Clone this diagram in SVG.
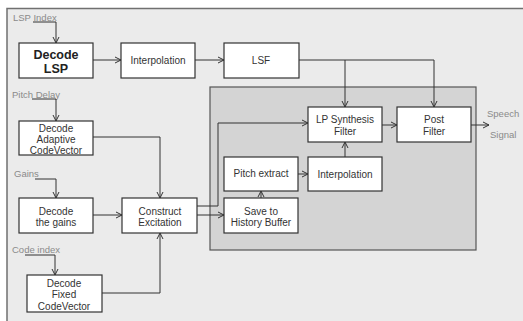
<svg xmlns="http://www.w3.org/2000/svg" width="523" height="321" viewBox="0 0 523 321">
<defs>
<marker id="ah" markerWidth="8" markerHeight="8" refX="7" refY="4" orient="auto" markerUnits="userSpaceOnUse">
<path d="M1,1 L7,4 L1,7" fill="none" stroke="#333" stroke-width="1"/>
</marker>
<style>
.box{fill:#fff;stroke:#333;stroke-width:1.2}
.t{font-family:"Liberation Sans",Arial,sans-serif;font-size:10px;fill:#333;text-anchor:middle}
.tb{font-family:"Liberation Sans",Arial,sans-serif;font-size:12.5px;font-weight:bold;fill:#222;text-anchor:middle}
.lbl{font-family:"Liberation Sans",Arial,sans-serif;font-size:9.5px;fill:#8a8a8a}
.c{fill:none;stroke:#333;stroke-width:1;marker-end:url(#ah)}
.c2{fill:none;stroke:#333;stroke-width:1}
</style>
</defs>
<rect x="0" y="0" width="523" height="321" fill="#fff"/>
<rect x="7" y="8.5" width="516" height="313" fill="#ebebeb"/>
<path d="M7,321 V8.5 H523" fill="none" stroke="#707070" stroke-width="1.5"/>
<rect id="inner-panel" x="210" y="87" width="266" height="163" fill="#d4d4d4" stroke="#555" stroke-width="1.2"/>

<g id="labels">
<text class="lbl" x="13" y="21">LSP Index</text>
<text class="lbl" x="12" y="98">Pitch Delay</text>
<text class="lbl" x="14" y="177">Gains</text>
<text class="lbl" x="12" y="253">Code index</text>
<text class="lbl" x="487" y="117">Speech</text>
<text class="lbl" x="490" y="138">Signal</text>
</g>

<g id="connectors">
<path class="c" d="M33,22 H56 V43"/>
<path class="c" d="M32,99 H56 V121"/>
<path class="c" d="M35,179 H56 V198"/>
<path class="c" d="M25,255 H55 V275"/>
<path class="c" d="M93,60 H121"/>
<path class="c" d="M195,60 H224"/>
<path class="c" d="M299,60 H434 V107"/>
<path class="c" d="M345,60 V107"/>
<path class="c" d="M93,137 H160 V198"/>
<path class="c" d="M93,215 H122"/>
<path class="c" d="M102,293 H160 V233"/>
<path class="c" d="M197,206 H218 V123 H308"/>
<path class="c" d="M197,215 H224"/>
<path class="c" d="M261,198 V191"/>
<path class="c" d="M298,174 H308"/>
<path class="c" d="M345,157 V142"/>
<path class="c" d="M382,125 H397"/>
<path class="c" d="M471,125 H489"/>
</g>

<g id="decode-lsp">
<rect class="box" x="19" y="43" width="74" height="35"/>
<text class="tb" x="56" y="59">Decode</text>
<text class="tb" x="56" y="73">LSP</text>
</g>
<g id="interpolation-top">
<rect class="box" x="121" y="43" width="74" height="35"/>
<text class="t" x="158" y="64">Interpolation</text>
</g>
<g id="lsf">
<rect class="box" x="224" y="43" width="75" height="35"/>
<text class="t" x="261" y="64">LSF</text>
</g>
<g id="decode-adaptive">
<rect class="box" x="19" y="121" width="74" height="34"/>
<text class="t" x="56" y="132">Decode</text>
<text class="t" x="56" y="143">Adaptive</text>
<text class="t" x="56" y="154">CodeVector</text>
</g>
<g id="decode-gains">
<rect class="box" x="19" y="198" width="74" height="35"/>
<text class="t" x="56" y="215">Decode</text>
<text class="t" x="56" y="226">the gains</text>
</g>
<g id="construct-excitation">
<rect class="box" x="122" y="198" width="75" height="35"/>
<text class="t" x="160" y="215">Construct</text>
<text class="t" x="160" y="226">Excitation</text>
</g>
<g id="decode-fixed">
<rect class="box" x="27" y="275" width="75" height="37"/>
<text class="t" x="64" y="287">Decode</text>
<text class="t" x="64" y="298">Fixed</text>
<text class="t" x="64" y="310">CodeVector</text>
</g>
<g id="lp-synthesis">
<rect class="box" x="308" y="107" width="74" height="35"/>
<text class="t" x="345" y="123">LP Synthesis</text>
<text class="t" x="345" y="135">Filter</text>
</g>
<g id="post-filter">
<rect class="box" x="397" y="107" width="74" height="35"/>
<text class="t" x="434" y="123">Post</text>
<text class="t" x="434" y="135">Filter</text>
</g>
<g id="pitch-extract">
<rect class="box" x="224" y="157" width="74" height="34"/>
<text class="t" x="261" y="177">Pitch extract</text>
</g>
<g id="interpolation-inner">
<rect class="box" x="308" y="157" width="74" height="34"/>
<text class="t" x="345" y="178">Interpolation</text>
</g>
<g id="save-history">
<rect class="box" x="224" y="198" width="74" height="35"/>
<text class="t" x="261" y="215">Save to</text>
<text class="t" x="261" y="226">History Buffer</text>
</g>
</svg>
